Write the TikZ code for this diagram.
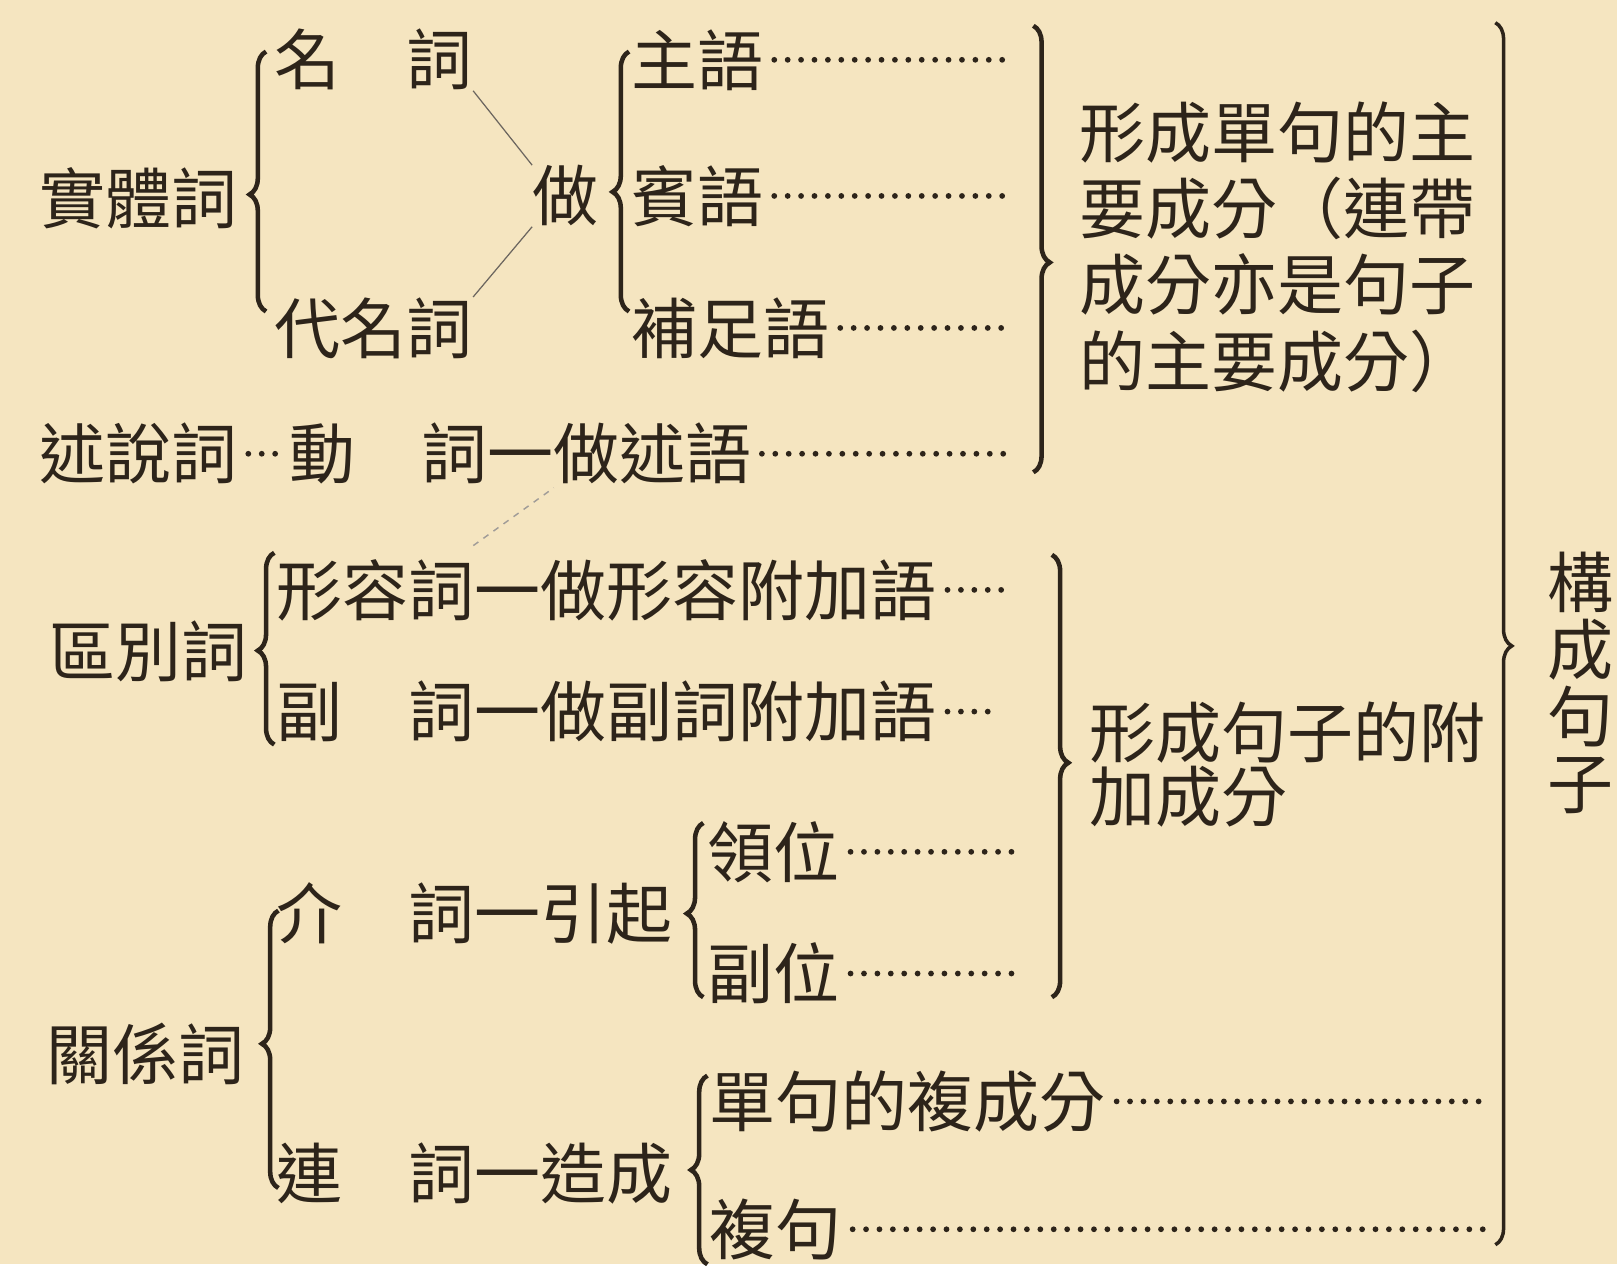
\documentclass[tikz,border=0pt]{standalone}
\usepackage{fontspec}
\setmainfont{Noto Sans CJK TC}
\usetikzlibrary{decorations.pathreplacing}
\definecolor{paper}{RGB}{245,229,192}
\definecolor{ink}{RGB}{45,36,26}

\begin{document}
\begin{tikzpicture}[x=0.5pt,y=-0.5pt,
	every node/.style={text=ink,inner sep=0pt,anchor=west,font=\fontsize{32}{37}\selectfont},
	brc/.style={decorate,decoration={brace,amplitude=8pt,aspect=#1},draw=ink,line width=2.2pt},
	brc/.default=0.5,
	leader/.style={draw=ink,line width=2.8pt,line cap=round,dash pattern=on 0pt off 6.5pt},
	tie/.style={draw=ink!70,line width=0.6pt},
	faint/.style={draw=ink!45,line width=0.7pt,dashed}]
	\fill[paper] (0,0) rectangle (1568,1226);
	% 實體詞
	\node (shiti) at (38,192) {實體詞};
	\node (mingci) at (266,58) {名　詞};
	\node (daiming) at (266,318) {代名詞};
	\node (zuo) at (516,190) {做};
	\node (zhuyu) at (612,58) {主語};
	\node (binyu) at (612,190) {賓語};
	\node (buzu) at (612,318) {補足語};
	\draw[tie] (mingci.south east) -- (zuo.north west);
	\draw[tie] (daiming.north east) -- (zuo.south west);
	\draw[brc=0.45] (258,302) -- (258,50);
	\draw[brc=0.46] (610,302) -- (610,50);
	% 述說詞
	\node (shushuo) at (38,440) {述說詞};
	\node (dongci) at (280,440) {動　詞一做述語};
	\draw[leader] ([xshift=5pt]shushuo.east) -- ([xshift=-5pt]dongci.west);
	\coordinate (fa) at (459,529);
	\coordinate (fb) at (537,473);
	\draw[faint] (fa) -- (fb);
	% 區別詞
	\node (qubie) at (48,632) {區別詞};
	\node (xingrong) at (268,572) {形容詞一做形容附加語};
	\node (fuci) at (268,690) {副　詞一做副詞附加語};
	\draw[brc=0.49] (266,722) -- (266,536);
	% 關係詞
	\node (guanxi) at (45,1022) {關係詞};
	\node (jieci) at (268,886) {介　詞一引起};
	\node (lianci) at (268,1138) {連　詞一造成};
	\node (lingwei) at (686,826) {領位};
	\node (fuwei) at (686,944) {副位};
	\node (fucheng) at (688,1068) {單句的複成分};
	\node (fuju) at (688,1192) {複句};
	\draw[brc=0.52] (270,1152) -- (270,883);
	\draw[brc=0.48] (682,967) -- (682,798);
	\draw[brc=0.5] (686,1226) -- (686,1043);
	% dotted leaders
	\foreach \n/\e in {zhuyu/975,binyu/975,buzu/975,dongci/975,xingrong/975,fuci/965,lingwei/990,fuwei/990,fucheng/1435,fuju/1440}{
		\draw[leader] ([xshift=5pt]\n.east) -- (\e,0 |- \n.east);
	}
	% right side
	\draw[brc=0.53] (1002,25) -- (1002,458);
	\draw[brc=0.47] (1020,538) -- (1020,967);
	\draw[brc=0.51,line width=1.7pt] (1450,22) -- (1450,1207);
	\node[anchor=north west,align=left] (zhuyao) at (1046,98) {形成單句的主\\要成分（連帶\\成分亦是句子\\的主要成分）};
	\node[anchor=north west,align=left,font=\fontsize{32}{31}\selectfont] (fujia) at (1056,680) {形成句子的附\\加成分};
	\node[anchor=center,align=center,font=\fontsize{32}{32.5}\selectfont] (goucheng) at (1533,662) {構\\成\\句\\子};
\end{tikzpicture}
\end{document}
